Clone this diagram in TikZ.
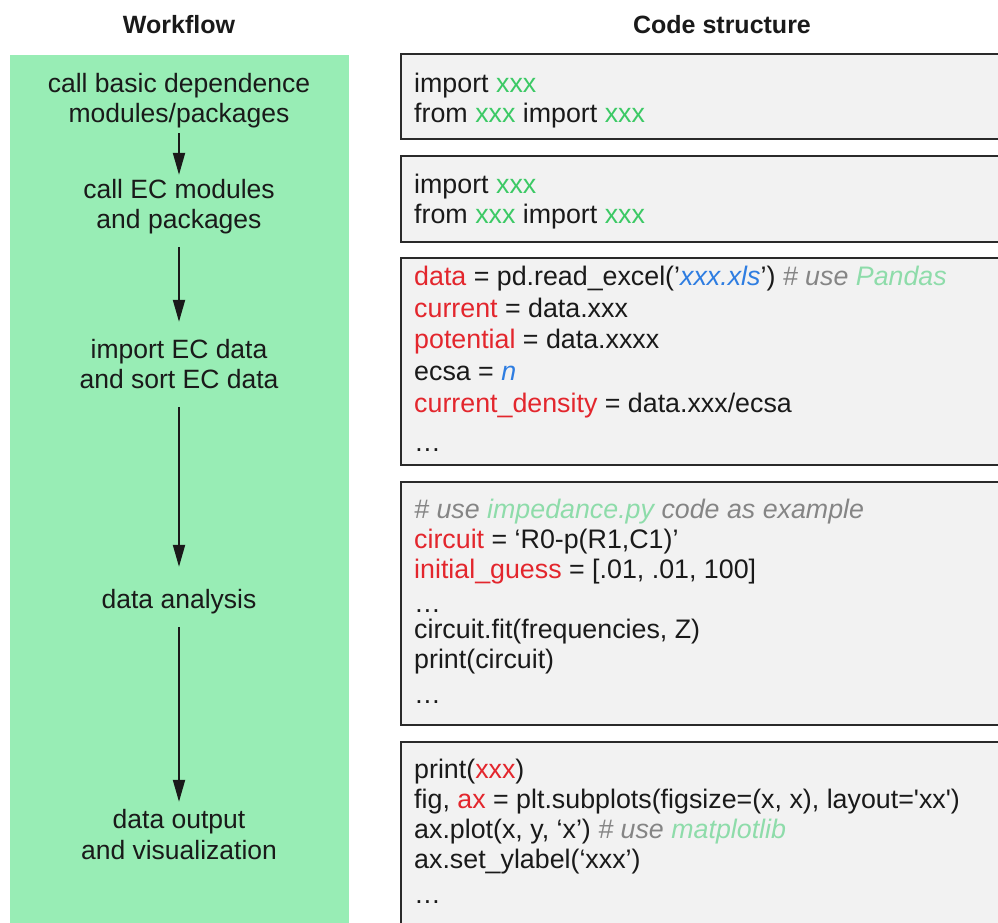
\documentclass[tikz,border=0pt]{standalone}
\usepackage{fontspec}
\setmainfont{Liberation Sans}
\newfontfamily\codefont{Liberation Sans}[Ligatures=TeXOff]
\usetikzlibrary{arrows.meta}
\definecolor{panelgreen}{HTML}{98EDB5}
\definecolor{boxfill}{HTML}{F2F2F2}
\definecolor{boxline}{HTML}{2A2A2A}
\definecolor{textdark}{HTML}{1A1A1A}
\definecolor{cgreen}{HTML}{3CC965}
\definecolor{cred}{HTML}{E3262D}
\definecolor{cblue}{HTML}{2E7DE1}
\definecolor{cgray}{HTML}{858585}
\definecolor{clgreen}{HTML}{8EDCAA}
\newcommand\cG[1]{\textcolor{cgreen}{#1}}
\newcommand\cR[1]{\textcolor{cred}{#1}}
\newcommand\cB[1]{\textcolor{cblue}{\itshape #1}}
\newcommand\cGr[1]{\textcolor{cgray}{\itshape #1}}
\newcommand\cLG[1]{\textcolor{clgreen}{\itshape #1}}
\begin{document}
\begin{tikzpicture}[x=1pt,y=-1pt,
  head/.style={anchor=base, inner sep=0pt, font=\bfseries\fontsize{25}{30}\selectfont, text=textdark},
  wf/.style={anchor=base, inner sep=0pt, font=\fontsize{26.5}{30}\selectfont, text=textdark, text height=20pt, text depth=6pt},
  code/.style={anchor=base west, inner sep=0pt, font=\codefont\fontsize{26.8}{31}\selectfont, text=textdark},
  codebox/.style={draw=boxline, line width=2pt, fill=boxfill, anchor=north west, minimum width=640pt, inner sep=0pt, outer sep=0pt},
  arr/.style={draw=textdark, line width=2pt, -{Triangle[width=12pt,length=22pt]}}
]
\useasboundingbox (0,0) rectangle (998,922);
\clip (0,0) rectangle (998,922);
\fill[white] (0,0) rectangle (998,922);

% headers
\node[head] (hwf) at (179,33) {Workflow};
\node[head] (hcs) at (722,33) {Code structure};

% workflow panel
\node[fill=panelgreen, anchor=north west, minimum width=339pt, minimum height=880pt, inner sep=0pt, outer sep=0pt] (panel) at (10,55) {};

\node[wf] (w1a) at (179,92) {call basic dependence};
\node[wf] (w1b) at (179,122) {modules/packages};
\node[wf] (w2a) at (179,198) {call EC modules};
\node[wf] (w2b) at (179,228) {and packages};
\node[wf] (w3a) at (179,358) {import EC data};
\node[wf] (w3b) at (179,388) {and sort EC data};
\node[wf] (w4) at (179,608) {data analysis};
\node[wf] (w5a) at (179,828) {data output};
\node[wf] (w5b) at (179,859) {and visualization};

\draw[arr, shorten <=5pt, shorten >=3pt] (w1b.south) -- (w2a.north);
\draw[arr, shorten <=13pt, shorten >=16pt] (w2b.south) -- (w3a.north);
\draw[arr, shorten <=13pt, shorten >=21pt] (w3b.south) -- (w4.north);
\draw[arr, shorten <=13pt, shorten >=6pt] (w4.south) -- (w5a.north);

% code boxes
\node[codebox, minimum height=85pt] (b1) at (401,54) {};
\node[codebox, minimum height=86pt] (b2) at (401,156) {};
\node[codebox, minimum height=207pt] (b3) at (401,258) {};
\node[codebox, minimum height=243pt] (b4) at (401,482) {};
\node[codebox, minimum height=200pt] (b5) at (401,742) {};

\node[code] (c1a) at (414,92) {import \cG{xxx}};
\node[code] (c1b) at (414,122) {from \cG{xxx} import \cG{xxx}};

\node[code] (c2a) at (414,193) {import \cG{xxx}};
\node[code] (c2b) at (414,223) {from \cG{xxx} import \cG{xxx}};

\node[code] (c3a) at (414,285) {\cR{data} = pd.read\_excel(’\cB{xxx.xls}’) \cGr{\# use} \cLG{Pandas}};
\node[code] (c3b) at (414,317) {\cR{current} = data.xxx};
\node[code] (c3c) at (414,348) {\cR{potential} = data.xxxx};
\node[code] (c3d) at (414,380) {ecsa = \cB{n}};
\node[code] (c3e) at (414,412) {\cR{current\_density} = data.xxx/ecsa};
\node[code] (c3f) at (414,451) {…};

\node[code] (c4a) at (414,518) {\cGr{\# use} \cLG{impedance.py} \cGr{code as example}};
\node[code] (c4b) at (414,548) {\cR{circuit} = ‘R0-p(R1,C1)’};
\node[code] (c4c) at (414,578) {\cR{initial\_guess} = [.01, .01, 100]};
\node[code] (c4d) at (414,612) {…};
\node[code] (c4e) at (414,638) {circuit.fit(frequencies, Z)};
\node[code] (c4f) at (414,668) {print(circuit)};
\node[code] (c4g) at (414,703) {…};

\node[code] (c5a) at (414,778) {print(\cR{xxx})};
\node[code] (c5b) at (414,808) {fig, \cR{ax} = plt.subplots(figsize=(x, x), layout='xx')};
\node[code] (c5c) at (414,838) {ax.plot(x, y, ‘x’) \cGr{\# use} \cLG{matplotlib}};
\node[code] (c5d) at (414,868) {ax.set\_ylabel(‘xxx’)};
\node[code] (c5e) at (414,903) {…};
\end{tikzpicture}
\end{document}
